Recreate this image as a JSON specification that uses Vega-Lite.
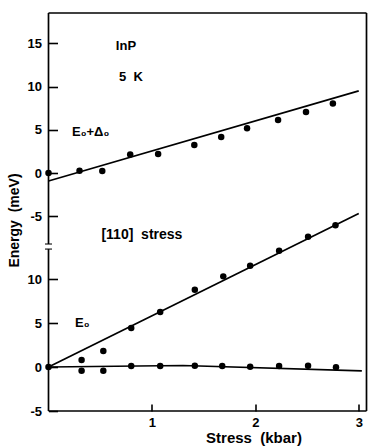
{
  "$schema": "https://vega.github.io/schema/vega-lite/v6.json",
  "width": 318,
  "height": 398,
  "autosize": {"type": "none"},
  "padding": {"left": 48.5, "top": 13, "right": 3.5, "bottom": 37},
  "background": "white",
  "config": {
    "view": {"stroke": null},
    "font": "Liberation Sans",
    "axis": {
      "labelFont": "Liberation Sans",
      "labelFontWeight": "bold",
      "labelFontSize": 13,
      "labelColor": "black",
      "tickColor": "black",
      "domainColor": "black",
      "titleColor": "black",
      "titleFont": "Liberation Sans",
      "titleFontWeight": "bold",
      "titleFontSize": 14,
      "grid": false
    },
    "axisBottom": {"titleX": 205, "titleY": 33, "titleAlign": "center", "titleBaseline": "middle", "titleFontSize": 15},
    "axisLeft": {"ticks": true, "tickSize": 9, "tickWidth": 1.6, "tickOpacity": 1, "titleX": -43, "titleY": 207, "titleAngle": 270, "titleAlign": "center", "titleBaseline": "middle"}
  },
  "datasets": {
    "points": [
      {"branch": "E0+D0", "stress": 0.0, "energy": 0.0},
      {"branch": "E0+D0", "stress": 0.30, "energy": 0.27},
      {"branch": "E0+D0", "stress": 0.52, "energy": 0.23},
      {"branch": "E0+D0", "stress": 0.79, "energy": 2.16},
      {"branch": "E0+D0", "stress": 1.06, "energy": 2.2},
      {"branch": "E0+D0", "stress": 1.41, "energy": 3.24},
      {"branch": "E0+D0", "stress": 1.67, "energy": 4.16},
      {"branch": "E0+D0", "stress": 1.92, "energy": 5.17},
      {"branch": "E0+D0", "stress": 2.22, "energy": 6.13},
      {"branch": "E0+D0", "stress": 2.49, "energy": 7.05},
      {"branch": "E0+D0", "stress": 2.75, "energy": 8.03},
      {"branch": "E0", "stress": 0.0, "energy": 0.0},
      {"branch": "E0", "stress": 0.32, "energy": 0.8},
      {"branch": "E0", "stress": 0.53, "energy": 1.82},
      {"branch": "E0", "stress": 0.80, "energy": 4.43},
      {"branch": "E0", "stress": 1.08, "energy": 6.25},
      {"branch": "E0", "stress": 1.415, "energy": 8.78},
      {"branch": "E0", "stress": 1.69, "energy": 10.3},
      {"branch": "E0", "stress": 1.95, "energy": 11.5},
      {"branch": "E0", "stress": 2.23, "energy": 13.2},
      {"branch": "E0", "stress": 2.51, "energy": 14.8},
      {"branch": "E0", "stress": 2.775, "energy": 16.1},
      {"branch": "E0", "stress": 0.32, "energy": -0.42},
      {"branch": "E0", "stress": 0.53, "energy": -0.42},
      {"branch": "E0", "stress": 0.80, "energy": 0.11},
      {"branch": "E0", "stress": 1.08, "energy": 0.11},
      {"branch": "E0", "stress": 1.415, "energy": 0.15},
      {"branch": "E0", "stress": 1.68, "energy": 0.11},
      {"branch": "E0", "stress": 1.95, "energy": 0.03},
      {"branch": "E0", "stress": 2.23, "energy": 0.11},
      {"branch": "E0", "stress": 2.51, "energy": 0.15},
      {"branch": "E0", "stress": 2.78, "energy": -0.04}
    ],
    "fits": [
      {"branch": "E0+D0", "curve": "a", "stress": 0.0, "energy": -0.92},
      {"branch": "E0+D0", "curve": "a", "stress": 3.0, "energy": 9.5},
      {"branch": "E0", "curve": "b", "stress": 0.0, "energy": 0.0},
      {"branch": "E0", "curve": "b", "stress": 3.0, "energy": 17.45},
      {"branch": "E0", "curve": "c", "stress": 0.0, "energy": 0.0},
      {"branch": "E0", "curve": "c", "stress": 1.3, "energy": 0.17},
      {"branch": "E0", "curve": "c", "stress": 3.03, "energy": -0.45}
    ]
  },
  "layer": [
    {
      "layer": [
        {
          "data": {"name": "points"},
          "transform": [{"filter": "datum.branch === 'E0+D0'"}],
          "mark": {"type": "circle", "color": "black", "opacity": 1, "size": 42},
          "encoding": {
            "x": {"field": "stress", "type": "quantitative", "scale": {"domain": [0, 3.075], "nice": false, "zero": false},
              "axis": {"orient": "bottom", "offset": -7, "values": [1, 2, 3], "format": "d", "domain": false, "tickSize": 7, "tickWidth": 1.6, "labelPadding": 5,
                "title": "Stress\u00a0\u00a0(kbar)"}},
            "y": {"field": "energy", "type": "quantitative", "scale": {"domain": [-27.5, 18.5], "nice": false, "zero": false},
              "axis": {"orient": "left", "offset": -9, "values": [-5, 0, 5, 10, 15], "domain": false, "ticks": true, "tickSize": 9, "tickWidth": 1.6, "labelPadding": 7, "labelExpr": "datum.value + ''",
                "title": "Energy\u00a0\u00a0(meV)"}}
          }
        },
        {
          "data": {"name": "fits"},
          "transform": [{"filter": "datum.branch === 'E0+D0'"}],
          "mark": {"type": "line", "color": "black", "strokeWidth": 1.7},
          "encoding": {
            "x": {"field": "stress", "type": "quantitative"},
            "y": {"field": "energy", "type": "quantitative"},
            "detail": {"field": "curve"}
          }
        },
        {
          "data": {"values": [{}]},
          "mark": {"type": "rule", "color": "black", "strokeWidth": 1.7},
          "encoding": {"x": {"datum": 0}, "x2": {"datum": 3.075}, "y": {"datum": 18.5}}
        },
        {
          "data": {"values": [{}]},
          "mark": {"type": "rule", "color": "black", "strokeWidth": 1.7},
          "encoding": {"x": {"datum": 0}, "y": {"datum": -8.2}, "y2": {"datum": 18.5}}
        },
        {
          "data": {"values": [{}]},
          "mark": {"type": "tick", "orient": "horizontal", "color": "black", "size": 7, "thickness": 1.5},
          "encoding": {"x": {"datum": 0}, "y": {"datum": -8.2}}
        },
        {
          "data": {"values": [{}]},
          "mark": {"type": "text", "fontWeight": "bold", "fontSize": 13, "align": "center", "baseline": "middle", "color": "black"},
          "encoding": {"x": {"datum": 0.749}, "y": {"datum": 14.7}, "text": {"value": "InP"}}
        },
        {
          "data": {"values": [{}]},
          "mark": {"type": "text", "fontWeight": "bold", "fontSize": 13, "align": "center", "baseline": "middle", "color": "black"},
          "encoding": {"x": {"datum": 0.797}, "y": {"datum": 11.1}, "text": {"value": "5\u00a0\u00a0K"}}
        },
        {
          "data": {"values": [{}]},
          "mark": {"type": "text", "fontWeight": "bold", "fontSize": 13, "align": "left", "baseline": "alphabetic", "color": "black"},
          "encoding": {"x": {"datum": 0.227}, "y": {"datum": 4.28}, "text": {"value": "E₀+Δ₀"}}
        },
        {
          "data": {"values": [{}]},
          "mark": {"type": "text", "fontWeight": "bold", "fontSize": 14, "align": "center", "baseline": "middle", "color": "black"},
          "encoding": {"x": {"datum": 0.903}, "y": {"datum": -7.17}, "text": {"value": "[110]\u00a0\u00a0stress"}}
        }
      ]
    },
    {
      "layer": [
        {
          "data": {"name": "points"},
          "transform": [{"filter": "datum.branch === 'E0'"}],
          "mark": {"type": "circle", "color": "black", "opacity": 1, "size": 42},
          "encoding": {
            "x": {"field": "stress", "type": "quantitative"},
            "y": {"field": "energy", "type": "quantitative", "scale": {"domain": [-5, 40.23], "nice": false, "zero": false},
              "axis": {"orient": "left", "offset": -9, "values": [-5, 0, 5, 10], "domain": false, "ticks": true, "tickSize": 9, "tickWidth": 1.6, "labelPadding": 7, "labelExpr": "datum.value + ''", "title": null}}
          }
        },
        {
          "data": {"name": "fits"},
          "transform": [{"filter": "datum.branch === 'E0'"}],
          "mark": {"type": "line", "color": "black", "strokeWidth": 1.7},
          "encoding": {
            "x": {"field": "stress", "type": "quantitative"},
            "y": {"field": "energy", "type": "quantitative"},
            "detail": {"field": "curve"}
          }
        },
        {
          "data": {"values": [{}]},
          "mark": {"type": "rule", "color": "black", "strokeWidth": 1.7},
          "encoding": {"x": {"datum": 0}, "y": {"datum": -5}, "y2": {"datum": 13.4}}
        },
        {
          "data": {"values": [{}]},
          "mark": {"type": "rule", "color": "black", "strokeWidth": 1.7},
          "encoding": {"x": {"datum": 0}, "x2": {"datum": 3.075}, "y": {"datum": -5}}
        },
        {
          "data": {"values": [{}]},
          "mark": {"type": "tick", "orient": "horizontal", "color": "black", "size": 7, "thickness": 1.5},
          "encoding": {"x": {"datum": 0}, "y": {"datum": 13.4}}
        },
        {
          "data": {"values": [{}]},
          "mark": {"type": "rule", "color": "black", "strokeWidth": 1.7},
          "encoding": {"x": {"datum": 3.075}, "y": {"datum": -5}, "y2": {"datum": 40.23}}
        },
        {
          "data": {"values": [{}]},
          "mark": {"type": "text", "fontWeight": "bold", "fontSize": 13, "align": "left", "baseline": "alphabetic", "color": "black"},
          "encoding": {"x": {"datum": 0.256}, "y": {"datum": 4.55}, "text": {"value": "E₀"}}
        }
      ]
    }
  ],
  "resolve": {"scale": {"y": "independent"}, "axis": {"y": "independent"}}
}
